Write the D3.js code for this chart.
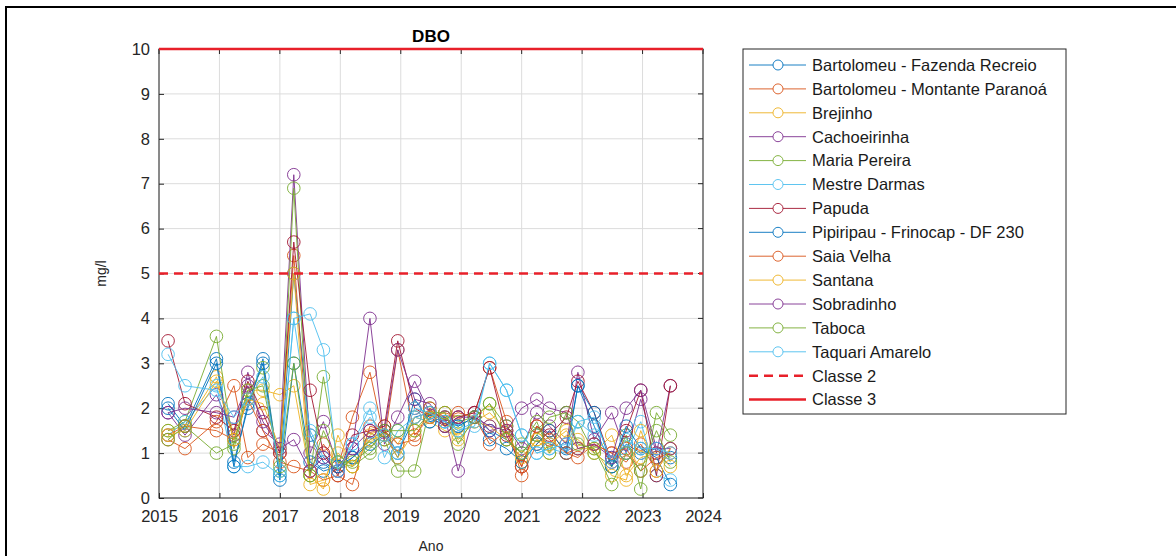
<!DOCTYPE html>
<html><head><meta charset="utf-8">
<script src="https://cdn.jsdelivr.net/npm/d3@7"></script>
<style>body{margin:0;background:#fff}svg{display:block;font-family:"Liberation Sans",Arial,sans-serif}</style>
</head><body><svg id="c" width="1176" height="556"></svg>
<script>
const times = [2015.15,2015.43,2015.95,2016.24,2016.47,2016.72,2017.0,2017.23,2017.5,2017.72,2017.96,2018.2,2018.49,2018.73,2018.95,2019.23,2019.48,2019.73,2019.95,2020.22,2020.47,2020.75,2021.0,2021.25,2021.46,2021.74,2021.93,2022.2,2022.49,2022.73,2022.97,2023.23,2023.46];
const seriesNames = ["Bartolomeu - Fazenda Recreio","Bartolomeu - Montante Paranoá","Brejinho","Cachoeirinha","Maria Pereira","Mestre Darmas","Papuda","Pipiripau - Frinocap - DF 230","Saia Velha","Santana","Sobradinho","Taboca","Taquari Amarelo"];
const bartolomeuFR = [2.1,1.6,3.1,0.8,2.0,3.1,0.5,5.0,1.4,0.8,0.6,0.9,1.3,1.5,1.0,1.8,1.9,1.7,1.6,1.8,1.5,1.3,1.0,1.4,1.2,1.1,2.5,1.6,0.7,1.2,1.0,1.1,0.9];
const bartolomeuMP = [1.3,1.1,1.7,2.5,0.9,1.2,1.0,5.4,0.6,1.2,0.7,1.8,2.8,1.3,3.3,1.4,1.8,1.9,1.8,1.9,2.9,1.7,0.5,1.2,1.5,1.0,1.1,1.2,1.0,0.8,1.2,0.6,1.1];
const brejinho = [1.5,1.6,2.7,1.4,2.4,2.4,2.3,2.5,0.5,0.2,1.4,0.7,1.4,1.6,1.2,1.8,1.7,1.5,1.4,1.7,1.9,1.5,0.8,1.3,1.0,1.4,1.3,1.0,1.4,0.5,0.9,1.0,0.7];
const cachoeirinha = [1.9,1.4,2.3,1.4,2.8,1.5,1.2,7.2,1.0,1.7,0.7,1.1,4.0,1.2,1.8,2.6,1.9,1.8,0.6,1.9,1.5,1.6,1.1,1.9,1.6,1.2,2.8,1.3,1.9,1.0,2.2,1.0,2.5];
const mariaPereira = [1.5,1.7,3.6,1.1,2.3,2.9,0.6,6.9,0.5,2.7,0.8,0.7,1.0,1.3,0.6,0.6,2.0,1.6,1.7,1.8,2.1,1.6,1.2,1.7,1.0,1.9,1.7,1.0,0.7,1.4,0.2,1.9,1.4];
const mestreDarmas = [1.4,1.7,2.5,0.7,0.7,0.8,0.5,4.0,1.5,0.9,0.8,1.2,2.0,0.9,1.5,1.8,1.7,1.7,1.5,1.6,3.0,2.4,1.4,1.0,1.1,1.0,1.7,1.4,0.9,1.0,1.7,0.5,0.4];
const papuda = [3.5,2.1,1.8,1.5,2.6,1.9,1.0,5.7,2.4,1.0,0.5,1.4,1.5,1.6,3.5,2.0,1.8,1.6,1.8,1.9,2.9,1.4,0.7,1.6,1.4,1.8,2.6,1.9,0.8,1.5,2.4,0.5,2.5];
const pipiripau = [2.0,1.5,3.0,0.7,2.1,3.0,0.4,3.0,0.8,0.6,0.7,0.9,1.2,1.4,0.9,2.2,1.7,1.8,1.6,1.8,1.3,1.1,0.8,1.2,1.5,1.0,2.5,1.9,0.7,1.6,1.1,0.9,0.3];
const saiaVelha = [1.4,1.6,1.5,1.3,2.2,1.5,0.8,0.7,0.6,0.4,0.5,0.3,1.6,1.5,1.2,1.3,2.0,1.8,1.9,1.8,1.2,1.5,0.7,1.6,1.3,1.0,0.9,1.2,1.0,1.1,0.6,0.9,1.0];
const santana = [1.4,1.5,2.6,1.3,2.2,2.1,1.1,5.0,0.3,0.4,1.0,0.7,1.3,1.4,0.9,1.5,1.8,1.9,1.3,1.7,1.6,1.3,0.9,1.3,1.2,1.5,1.1,1.1,0.5,0.4,1.5,0.6,1.1];
const sobradinho = [1.9,2.0,1.9,1.8,2.5,1.7,1.1,1.3,0.6,0.9,0.6,1.1,1.5,1.5,3.3,2.2,2.1,1.6,1.8,1.8,1.6,1.5,2.0,2.2,2.0,1.9,1.1,1.2,0.9,2.0,2.4,1.1,1.1];
const taboca = [1.3,1.6,1.0,1.2,2.4,2.5,0.7,3.0,0.5,1.5,0.8,0.8,1.1,1.5,1.5,1.5,1.9,1.9,1.2,1.8,2.1,1.3,1.0,1.4,1.8,1.9,1.2,1.1,0.3,1.0,0.6,1.5,0.8];
const taquariAmarelo = [3.2,2.5,2.4,1.8,2.2,2.7,0.6,4.0,4.1,3.3,0.6,1.2,1.8,1.4,1.0,2.0,1.9,1.7,1.5,1.7,3.0,2.4,1.4,1.0,1.1,1.2,1.7,1.8,0.8,1.3,1.1,1.1,1.0];
const seriesValues = [bartolomeuFR,bartolomeuMP,brejinho,cachoeirinha,mariaPereira,mestreDarmas,papuda,pipiripau,saiaVelha,santana,sobradinho,taboca,taquariAmarelo];
const classe2 = 5, classe3 = 10;
const xTicks = [2015,2016,2017,2018,2019,2020,2021,2022,2023,2024];
const yTicks = [0,1,2,3,4,5,6,7,8,9,10];
const colors = ["#0072BD","#D95319","#EDB120","#7E2F8E","#77AC30","#4DBEEE","#A2142F"];

const svg = d3.select("#c");
svg.append("rect").attr("x",6).attr("y",7).attr("width",1200).attr("height",600).attr("fill","#fff").attr("stroke","#000").attr("stroke-width",2);

const L=159,R=703,T=49,B=498;
const x = d3.scaleLinear().domain([2015,2024]).range([L,R]);
const y = d3.scaleLinear().domain([0,10]).range([B,T]);

const g = svg.append("g");
g.selectAll(".gx").data(xTicks).join("line").attr("x1",d=>x(d)).attr("x2",d=>x(d)).attr("y1",T).attr("y2",B).attr("stroke","#dcdcdc").attr("stroke-width",1);
g.selectAll(".gy").data(yTicks).join("line").attr("y1",d=>y(d)).attr("y2",d=>y(d)).attr("x1",L).attr("x2",R).attr("stroke","#dcdcdc").attr("stroke-width",1);

const xa = g.append("g").attr("transform",`translate(0,${B})`).call(d3.axisBottom(x).tickValues(xTicks).tickFormat(d3.format("d")).tickSize(-5).tickPadding(12));
const ya = g.append("g").attr("transform",`translate(${L},0)`).call(d3.axisLeft(y).tickValues(yTicks).tickSize(-5).tickPadding(9));
[xa,ya].forEach(a=>{a.select(".domain").remove();a.selectAll("line").attr("stroke","#262626");a.selectAll("text").attr("font-size",16.5).attr("fill","#262626").attr("font-family","Liberation Sans, Arial, sans-serif");});
g.append("rect").attr("x",L).attr("y",T).attr("width",R-L).attr("height",B-T).attr("fill","none").attr("stroke","#262626").attr("stroke-width",1);
g.selectAll(".tt").data(xTicks).join("line").attr("x1",d=>x(d)).attr("x2",d=>x(d)).attr("y1",T).attr("y2",T+5).attr("stroke","#262626");
g.selectAll(".rt").data(yTicks).join("line").attr("y1",d=>y(d)).attr("y2",d=>y(d)).attr("x1",R).attr("x2",R-5).attr("stroke","#262626");

const line = d3.line().x(d=>x(d[0])).y(d=>y(d[1]));
seriesValues.forEach((vals,i)=>{
  const c = colors[i%7];
  const pts = vals.map((v,j)=>[times[j],v]);
  const sg = g.append("g");
  sg.append("path").datum(pts).attr("d",line).attr("fill","none").attr("stroke",c).attr("stroke-width",0.9);
  sg.selectAll("circle").data(pts).join("circle").attr("cx",d=>x(d[0])).attr("cy",d=>y(d[1])).attr("r",6.3).attr("fill","none").attr("stroke",c).attr("stroke-width",0.9);
});
g.append("line").attr("x1",L).attr("x2",R).attr("y1",y(classe2)).attr("y2",y(classe2)).attr("stroke","#E8202A").attr("stroke-width",2.5).attr("stroke-dasharray","9,6");
g.append("line").attr("x1",L).attr("x2",R).attr("y1",y(classe3)).attr("y2",y(classe3)).attr("stroke","#E8202A").attr("stroke-width",2.5);

svg.append("text").attr("x",(L+R)/2).attr("y",42).attr("text-anchor","middle").attr("font-size",17).attr("font-weight","bold").attr("fill","#000").text("DBO");
svg.append("text").attr("x",(L+R)/2).attr("y",551).attr("text-anchor","middle").attr("font-size",14).attr("fill","#262626").text("Ano");
svg.append("text").attr("transform",`translate(106,${(T+B)/2}) rotate(-90)`).attr("text-anchor","middle").attr("font-size",14).attr("fill","#262626").text("mg/l");

const lg = svg.append("g");
lg.append("rect").attr("x",743).attr("y",49).attr("width",323).attr("height",365).attr("fill","#fff").attr("stroke","#262626").attr("stroke-width",1);
const legItems = seriesNames.map((n,i)=>({n,c:colors[i%7],t:"s"})).concat([{n:"Classe 2",c:"#E8202A",t:"d"},{n:"Classe 3",c:"#E8202A",t:"l"}]);
legItems.forEach((it,i)=>{
  const yy = 65 + i*23.9;
  const l = lg.append("line").attr("x1",749).attr("x2",806).attr("y1",yy).attr("y2",yy).attr("stroke",it.c);
  if(it.t==="s"){l.attr("stroke-width",0.9);lg.append("circle").attr("cx",778).attr("cy",yy).attr("r",5).attr("fill","#fff").attr("stroke",it.c).attr("stroke-width",0.9);}
  else if(it.t==="d"){l.attr("stroke-width",2.5).attr("stroke-dasharray","9,6");}
  else l.attr("stroke-width",2.5);
  lg.append("text").attr("x",812).attr("y",yy+5.8).attr("font-size",16.5).attr("fill","#1a1a1a").text(it.n);
});
</script></body></html>
